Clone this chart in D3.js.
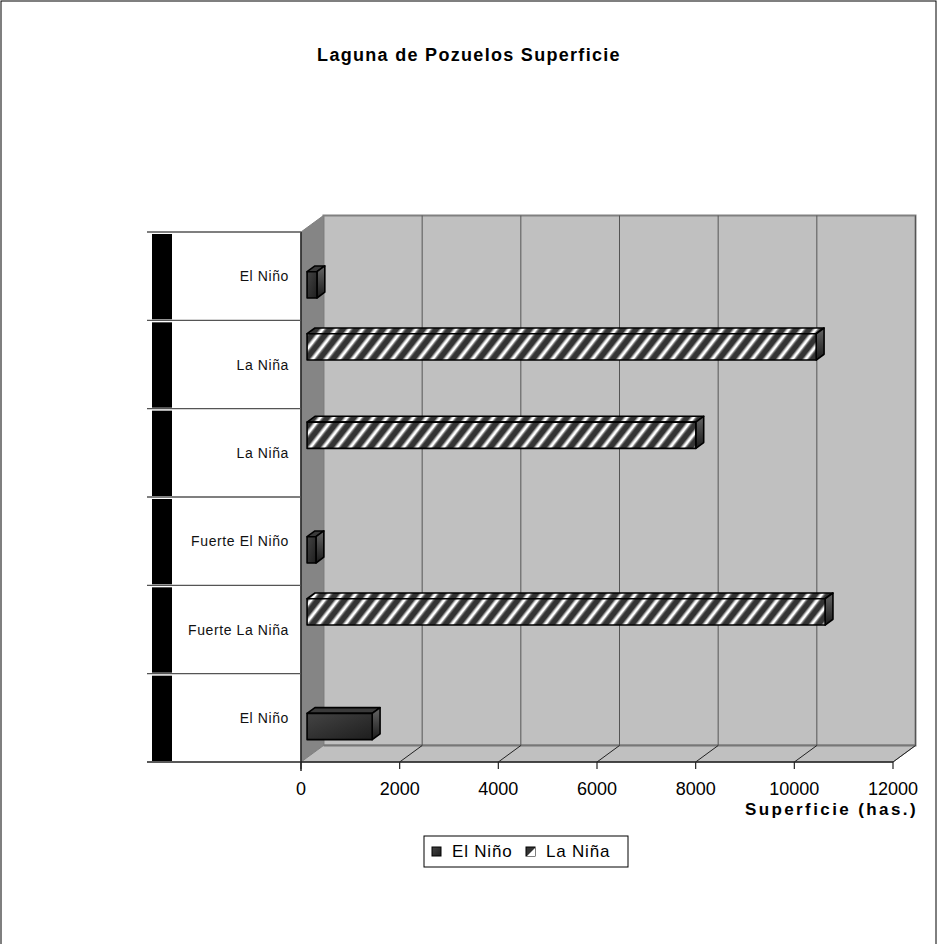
<!DOCTYPE html>
<html>
<head>
<meta charset="utf-8">
<script src="https://cdn.jsdelivr.net/npm/d3@7/dist/d3.min.js"></script>
<style>
  html, body { margin: 0; padding: 0; background: #fff; }
  svg { display: block; font-family: "Liberation Sans", Arial, sans-serif; }
</style>
</head>
<body>
<svg id="chart" width="938" height="944"></svg>
<script>
// Categories listed from top to bottom
const categories = ["El Niño", "La Niña", "La Niña", "Fuerte El Niño", "Fuerte La Niña", "El Niño"];
const seriesNames = ["El Niño", "La Niña"];
// Surface (has.) per category; null where the series has no value
const elNinoValues = [200, null, null, 180, null, 1320];
const laNinaValues = [null, 10320, 7880, null, 10500, null];
const xTicks = [0, 2000, 4000, 6000, 8000, 10000, 12000];

const svg = d3.select("#chart");
const W = 938, H = 944;

// Front plane of the 3-D plot and its depth offset
const plot = { left: 301, right: 893, top: 232, bottom: 762 };
const DX = 22.5, DY = -16.5;
const x = d3.scaleLinear().domain([0, 12000]).range([plot.left, plot.right]);
const y = d3.scaleBand().domain(d3.range(categories.length)).range([plot.top, plot.bottom]);
// inner clustering: La Niña on top, El Niño below
const inner = d3.scaleBand().domain(["La Niña", "El Niño"]).range([0, y.bandwidth()])
  .paddingInner(0).paddingOuter(0.68);
const barD0 = 0.27, barD1 = 0.62;   // bar depth range (fraction of plot depth)
const P = (v, yy, d) => [x(v) + d * DX, yy + d * DY];

// defs: patterns and gradients
const defs = svg.append("defs");
const stripe = defs.append("pattern").attr("id", "stripes")
  .attr("patternUnits", "userSpaceOnUse").attr("width", 10.5).attr("height", 40)
  .attr("patternTransform", "rotate(38)");
stripe.append("rect").attr("width", 10.5).attr("height", 40).attr("fill", "#333");
stripe.append("rect").attr("x", 3).attr("width", 5).attr("height", 40).attr("fill", "#8a8a8a");
stripe.append("rect").attr("x", 4.2).attr("width", 2.6).attr("height", 40).attr("fill", "#fff");

const gNino = defs.append("linearGradient").attr("id", "nino").attr("x1", 0).attr("y1", 0).attr("x2", 1).attr("y2", 1);
gNino.append("stop").attr("offset", 0).attr("stop-color", "#444");
gNino.append("stop").attr("offset", 1).attr("stop-color", "#1e1e1e");
const gSide = defs.append("linearGradient").attr("id", "side").attr("x1", 0).attr("y1", 0).attr("x2", 0).attr("y2", 1);
gSide.append("stop").attr("offset", 0).attr("stop-color", "#666");
gSide.append("stop").attr("offset", 1).attr("stop-color", "#1a1a1a");

// outer chart border
svg.append("rect").attr("x", 1).attr("y", 1).attr("width", W - 3).attr("height", H + 10)
  .attr("fill", "#fff").attr("stroke", "#000").attr("stroke-width", 1);

// title
svg.append("text").attr("x", 469).attr("y", 61).attr("text-anchor", "middle")
  .attr("font-size", 18).attr("font-weight", "bold").attr("letter-spacing", 1.3)
  .text("Laguna de Pozuelos Superficie");

const line = d3.line();
const g = svg.append("g");

// back wall
const bw0 = P(0, plot.top, 1), bw1 = P(12000, plot.bottom, 1);
g.append("rect").attr("x", bw0[0]).attr("y", bw0[1]).attr("width", bw1[0] - bw0[0]).attr("height", bw1[1] - bw0[1])
  .attr("fill", "#c0c0c0").attr("stroke", "#808080").attr("stroke-width", 2);
// side wall
g.append("path").attr("d", line([P(0, plot.top, 0), P(0, plot.top, 1), P(0, plot.bottom, 1), P(0, plot.bottom, 0)]) + "Z")
  .attr("fill", "#858585").attr("stroke", "#808080").attr("stroke-width", 1);
// floor
g.append("path").attr("d", line([P(0, plot.bottom, 0), P(0, plot.bottom, 1), P(12000, plot.bottom, 1), P(12000, plot.bottom, 0)]) + "Z")
  .attr("fill", "#c0c0c0").attr("stroke", "#808080").attr("stroke-width", 1);
g.append("path").attr("d", line([P(0, plot.bottom, 1), P(12000, plot.bottom, 1)]))
  .attr("stroke", "#777").attr("stroke-width", 2);

// gridlines on back wall and floor
xTicks.slice(1).forEach(t => {
  g.append("path").attr("d", line([P(t, plot.top, 1), P(t, plot.bottom, 1)]))
    .attr("stroke", "#555").attr("stroke-width", 1);
  g.append("path").attr("d", line([P(t, plot.bottom, 0), P(t, plot.bottom, 1)]))
    .attr("stroke", "#222").attr("stroke-width", 1);
});
g.append("path").attr("d", line([P(0, plot.top, 0), P(0, plot.bottom + 9, 0)]))
  .attr("stroke", "#222").attr("stroke-width", 1.5);

// category panel
const catLeft = 147;
categories.forEach((c, i) => {
  const y0 = y(i), y1 = y(i) + y.bandwidth();
  g.append("rect").attr("x", 152).attr("y", y0 + 2).attr("width", 20).attr("height", y1 - y0 - 3).attr("fill", "#000");
  g.append("text").attr("x", 289).attr("y", y0 + y.bandwidth() / 2 + 5).attr("text-anchor", "end")
    .attr("font-size", 14).attr("letter-spacing", 0.6).attr("fill", "#111").text(c);
});
d3.range(categories.length + 1).forEach(i => {
  const yy = i < categories.length ? y(i) : plot.bottom;
  g.append("line").attr("x1", catLeft).attr("x2", plot.left).attr("y1", yy).attr("y2", yy)
    .attr("stroke", i === categories.length ? "#222" : "#555").attr("stroke-width", 1.3);
});
g.append("line").attr("x1", plot.left).attr("x2", plot.right).attr("y1", plot.bottom).attr("y2", plot.bottom)
  .attr("stroke", "#222").attr("stroke-width", 1.3);

// x axis ticks and labels
xTicks.forEach(t => {
  g.append("line").attr("x1", x(t)).attr("x2", x(t)).attr("y1", plot.bottom).attr("y2", plot.bottom + 7)
    .attr("stroke", "#222").attr("stroke-width", 1.2);
  g.append("text").attr("x", x(t)).attr("y", 795).attr("text-anchor", "middle")
    .attr("font-size", 18).attr("fill", "#000").text(t);
});
svg.append("text").attr("x", 918).attr("y", 815).attr("text-anchor", "end")
  .attr("font-size", 17).attr("font-weight", "bold").attr("letter-spacing", 2.4).text("Superficie (has.)");

// bars
function drawBar(i, v, series) {
  if (v == null) return;
  const top = y(i) + inner(series), bot = top + inner.bandwidth();
  const frontFill = series === "La Niña" ? "url(#stripes)" : "url(#nino)";
  const topFill = series === "La Niña" ? "url(#stripes)" : "#3a3a3a";
  const bg = g.append("g").attr("stroke", "#000").attr("stroke-width", 1.6).attr("stroke-linejoin", "round");
  // top face
  bg.append("path").attr("d", line([P(0, top, barD0), P(v, top, barD0), P(v, top, barD1), P(0, top, barD1)]) + "Z")
    .attr("fill", topFill);
  // end face
  bg.append("path").attr("d", line([P(v, top, barD0), P(v, top, barD1), P(v, bot, barD1), P(v, bot, barD0)]) + "Z")
    .attr("fill", "url(#side)");
  // front face
  const f0 = P(0, top, barD0), f1 = P(v, bot, barD0);
  bg.append("rect").attr("x", f0[0]).attr("y", f0[1]).attr("width", f1[0] - f0[0]).attr("height", f1[1] - f0[1])
    .attr("fill", frontFill);
}
categories.forEach((c, i) => {
  drawBar(i, elNinoValues[i], "El Niño");
  drawBar(i, laNinaValues[i], "La Niña");
});

// legend
const lg = svg.append("g").attr("transform", "translate(424,836)");
lg.append("rect").attr("width", 204).attr("height", 31).attr("fill", "#fff").attr("stroke", "#000").attr("stroke-width", 1);
const legendX = [8, 102];
seriesNames.forEach((s, k) => {
  const it = lg.append("g").attr("transform", `translate(${legendX[k]},11)`);
  if (s === "El Niño") {
    it.append("rect").attr("width", 9).attr("height", 9).attr("fill", "url(#nino)").attr("stroke", "#000");
  } else {
    it.append("rect").attr("width", 9).attr("height", 9).attr("fill", "#333").attr("stroke", "#000");
    it.append("path").attr("d", "M9,1L9,9L1,9Z").attr("fill", "#fff");
  }
  it.append("text").attr("x", 20).attr("y", 10).attr("font-size", 17).attr("letter-spacing", 0.8).text(s);
});
</script>
</body>
</html>
